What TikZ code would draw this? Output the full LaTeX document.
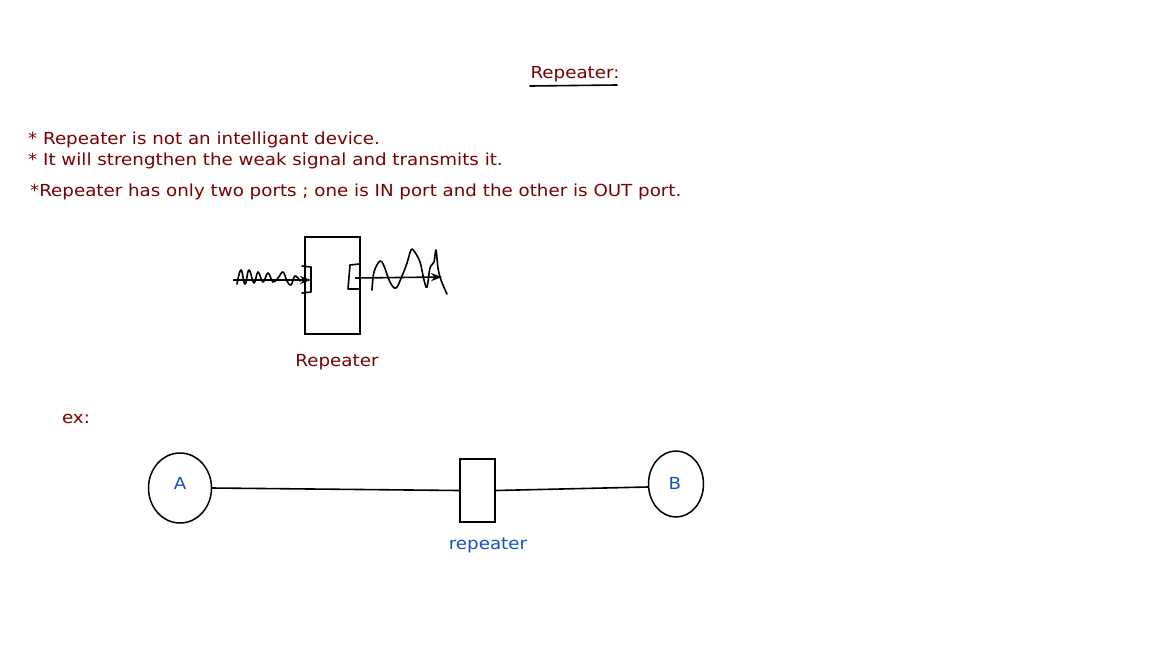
\documentclass[tikz,border=0pt]{standalone}
\usepackage{fontspec}
\setmainfont{DejaVu Sans}[FakeStretch=1.1]
\usepackage{xcolor}
\usetikzlibrary{shapes.geometric, arrows.meta, positioning}
\definecolor{darkred}{RGB}{120,0,0}
\definecolor{labelblue}{RGB}{20,80,200}

\begin{document}
\begin{tikzpicture}[
          x=1pt, y=-1pt,
          note/.style={text=darkred, font=\fontsize{16.6}{19}\selectfont, inner sep=0pt},
          txt/.style={note, anchor=west},
          lbl/.style={text=labelblue, font=\fontsize{16.6}{19}\selectfont, inner sep=0pt},
          dev/.style={rectangle, draw=black, line width=1.5pt, inner sep=0pt},
          host/.style={ellipse, draw=black, line width=1.5pt, inner sep=0pt},
          pen/.style={line width=1.6pt, line join=round, line cap=round},
          arrow/.style={-{Stealth[length=11pt, width=8pt]}, line width=1.6pt}
        ]
          \useasboundingbox (0,0) rectangle (1168,657);
          % Heading and notes
          \node[note] (title) at (575,74) {Repeater:};
          \draw[pen] (530,86) -- (617,85);
          \node[txt] (n1) at (28,140) {* Repeater is not an intelligant device.};
          \node[txt] (n2) at (28,161) {* It will strengthen the weak signal and transmits it.};
          \node[txt] (n3) at (30,192) {*Repeater has only two ports ; one is IN port and the other is OUT port.};

          % Repeater sketch
          \node[dev, minimum width=55pt, minimum height=97pt] (rep) at (332.5,285.5) {};
          \node[note] (replbl) at (337,362) {Repeater};
          \coordinate (inL) at (233,280);
          \coordinate (inR) at (311,280);
          \coordinate (outL) at (355,278);
          \coordinate (outR) at (442,277);
          \draw[arrow] (inL) -- (inR);
          \draw[arrow] (outL) -- (outR);
          % ports
          \draw[pen] (302,266) -- (311,267) -- (311,292) -- (302,293);
          \draw[pen] (359,264) -- (350,265) -- (348,289) -- (359,289);
          % weak signal in
          \draw[pen] plot[smooth, tension=0.7] coordinates {(237,284) (241,270) (245,284) (249,270) (254,283) (258,272) (263,282) (268,273) (273,282) (278,278) (283,272) (287,281) (291,285) (295,276) (300,281)};
          % strong signal out
          \draw[pen] plot[smooth, tension=0.6] coordinates {(372,290) (374,272) (380,261) (384,266) (390,282) (396,288) (402,276) (407,263) (411,250) (414,251) (420,262) (424,280) (427,287) (430,268) (434,262) (436,250) (438,268) (441,280) (447,294)};

          % Example
          \node[note] (ex) at (76,419) {ex:};
          \node[host, minimum width=63pt, minimum height=70pt] (A) at (180,488) {};
          \node[lbl] at (180,483) {A};
          \node[dev, minimum width=35pt, minimum height=63pt] (mid) at (477.5,490.5) {};
          \node[lbl] (midlbl) at (488,545) {repeater};
          \node[host, minimum width=55pt, minimum height=66pt] (B) at (676,484) {};
          \node[lbl] at (675,483) {B};
          \coordinate (Ain) at (A.east);
          \coordinate (Bin) at ([yshift=-3pt]B.west);

          % Connections
          \draw[pen] (Ain) -- (mid.west);
          \draw[pen] (mid.east) -- (Bin);
        \end{tikzpicture}
\end{document}
